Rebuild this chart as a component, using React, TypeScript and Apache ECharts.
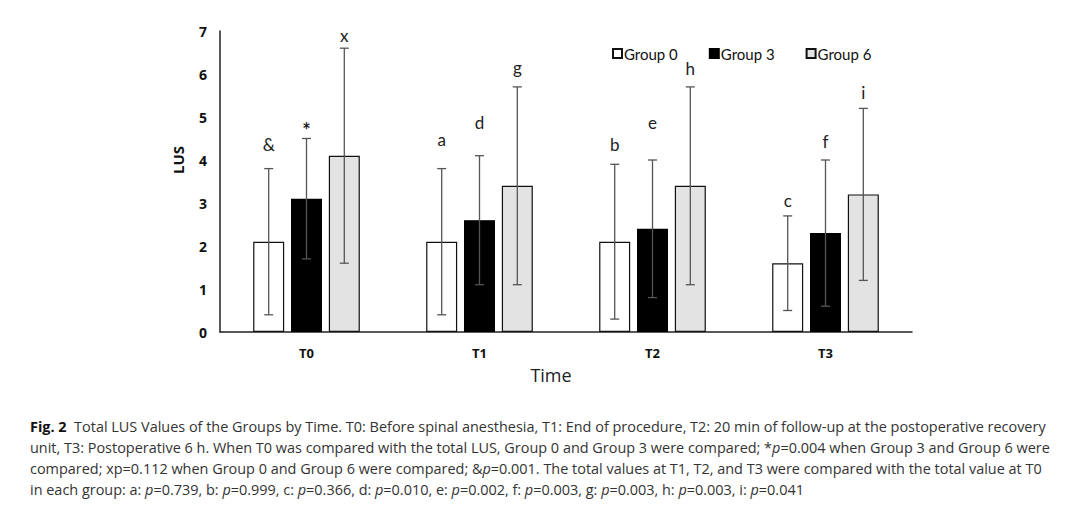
import React, { useEffect, useRef } from "react";
import * as echarts from "echarts";

const categories = ["T0", "T1", "T2", "T3"];
const groupNames = ["Group 0", "Group 3", "Group 6"];

const group0Mean = [2.1, 2.1, 2.1, 1.6];
const group0Sd = [1.7, 1.7, 1.8, 1.1];
const group3Mean = [3.1, 2.6, 2.4, 2.3];
const group3Sd = [1.4, 1.5, 1.6, 1.7];
const group6Mean = [4.1, 3.4, 3.4, 3.2];
const group6Sd = [2.5, 2.3, 2.3, 2.0];

const group0Marks = ["&", "a", "b", "c"];
const group0MarkY = [4.35, 4.47, 4.37, 3.05];
const group3Marks = ["*", "d", "e", "f"];
const group3MarkY = [4.8, 4.87, 4.88, 4.43];
const group6Marks = ["x", "g", "h", "i"];
const group6MarkY = [6.9, 6.15, 6.12, 5.58];

const yTicks = { min: 0, max: 7, interval: 1 };

const captionLines = [
  "{b|Fig. 2}  Total LUS Values of the Groups by Time. T0: Before spinal anesthesia, T1: End of procedure, T2: 20 min of follow-up at the postoperative recovery",
  "unit, T3: Postoperative 6 h. When T0 was compared with the total LUS, Group 0 and Group 3 were compared; *{i|p}=0.004 when Group 3 and Group 6 were",
  "compared; xp=0.112 when Group 0 and Group 6 were compared; &{i|p}=0.001. The total values at T1, T2, and T3 were compared with the total value at T0",
  "in each group: a: {i|p}=0.739, b: {i|p}=0.999, c: {i|p}=0.366, d: {i|p}=0.010, e: {i|p}=0.002, f: {i|p}=0.003, g: {i|p}=0.003, h: {i|p}=0.003, i: {i|p}=0.041",
];

const BAR_W = 31;
const BAR_STEP = 37.8;

function errorSeries(name: string, mean: number[], sd: number[], markY: number[], marks: string[], slot: number) {
  return {
    type: "custom",
    name: name + " SD",
    z: 5,
    silent: true,
    data: mean.map((m, i) => [i, m, sd[i], markY[i]]),
    renderItem: (params: any, api: any) => {
      const idx = params.dataIndex;
      const x = api.value(0);
      const m = api.value(1);
      const s = api.value(2);
      const my = api.value(3);
      const base = api.coord([x, m]);
      const cx = base[0] + slot * BAR_STEP;
      const top = api.coord([x, m + s])[1];
      const bot = api.coord([x, Math.max(0, m - s)])[1];
      const ly = api.coord([x, my])[1];
      const ls = { stroke: "#555", lineWidth: 1.3 };
      const mark = marks[idx];
      return {
        type: "group",
        children: [
          { type: "line", shape: { x1: cx, y1: top, x2: cx, y2: bot }, style: ls },
          { type: "line", shape: { x1: cx - 4.5, y1: top, x2: cx + 4.5, y2: top }, style: ls },
          { type: "line", shape: { x1: cx - 4.5, y1: bot, x2: cx + 4.5, y2: bot }, style: ls },
          {
            type: "text",
            x: cx,
            y: mark === "*" ? ly + 4 : ly,
            style: {
              text: mark,
              textAlign: "center",
              textVerticalAlign: "middle",
              font: mark === "*" ? "bold 20px Lato" : "17px Lato",
              fill: "#222",
            },
          },
        ],
      };
    },
  };
}

export default function App() {
  const ref = useRef<HTMLDivElement>(null);
  useEffect(() => {
    if (!ref.current) return;
    const chart = echarts.init(ref.current, null, { renderer: "svg" });
    const captionStyle = { fontFamily: "Open Sans", fontSize: 14.45, fill: "#333" };
    chart.setOption({
      animation: false,
      backgroundColor: "#fff",
      grid: { left: 220, right: 168, top: 31, bottom: 184 },
      legend: {
        data: groupNames,
        left: 607,
        top: 41,
        icon: "rect",
        itemWidth: 9,
        itemHeight: 9,
        itemGap: 31,
        textStyle: { fontFamily: "Lato", fontSize: 15, color: "#111", padding: [0, 0, 0, -3] },
      },
      xAxis: {
        type: "category",
        data: categories,
        axisLine: { lineStyle: { color: "#222", width: 1.5 } },
        axisTick: { show: false },
        axisLabel: { fontFamily: "Open Sans", fontWeight: "bold", fontSize: 13, color: "#111", margin: 14 },
      },
      yAxis: {
        type: "value",
        min: yTicks.min,
        max: yTicks.max,
        interval: yTicks.interval,
        axisLine: { show: true, lineStyle: { color: "#222", width: 1.5 } },
        axisTick: { show: false },
        splitLine: { show: false },
        axisLabel: { fontFamily: "Open Sans", fontWeight: "bold", fontSize: 14, color: "#111", margin: 13 },
      },
      graphic: [
        {
          type: "text",
          x: 178,
          y: 160,
          rotation: Math.PI / 2,
          style: { text: "LUS", font: 'bold 15px "Open Sans"', fill: "#111", textAlign: "center", textVerticalAlign: "middle" },
        },
        {
          type: "text",
          x: 551,
          y: 375,
          style: { text: "Time", font: '18px "Open Sans"', fill: "#222", textAlign: "center", textVerticalAlign: "middle" },
        },
        ...captionLines.map((line, i) => ({
          type: "text",
          x: 30,
          y: 426 + i * 21,
          style: {
            text: line,
            font: '14.45px "Open Sans"',
            fill: "#333",
            textVerticalAlign: "middle",
            rich: {
              b: { ...captionStyle, fontWeight: "bold", fill: "#111" },
              i: { ...captionStyle, fontStyle: "italic" },
            },
          },
        })),
      ],
      series: [
        {
          type: "bar",
          name: groupNames[0],
          data: group0Mean,
          barWidth: BAR_W,
          barGap: "22%",
          itemStyle: { color: "#ffffff", borderColor: "#111", borderWidth: 1.2 },
        },
        {
          type: "bar",
          name: groupNames[1],
          data: group3Mean,
          barWidth: BAR_W,
          barGap: "22%",
          itemStyle: { color: "#000000", borderColor: "#000", borderWidth: 1.2 },
        },
        {
          type: "bar",
          name: groupNames[2],
          data: group6Mean,
          barWidth: BAR_W,
          barGap: "22%",
          itemStyle: { color: "#e3e3e3", borderColor: "#111", borderWidth: 1.2 },
        },
        errorSeries(groupNames[0], group0Mean, group0Sd, group0MarkY, group0Marks, -1),
        errorSeries(groupNames[1], group3Mean, group3Sd, group3MarkY, group3Marks, 0),
        errorSeries(groupNames[2], group6Mean, group6Sd, group6MarkY, group6Marks, 1),
      ],
    });
    return () => chart.dispose();
  }, []);
  return (
    <div
      ref={ref}
      style={{ position: "absolute", left: 0, top: 0, width: 1080, height: 516, background: "#fff" }}
    />
  );
}
